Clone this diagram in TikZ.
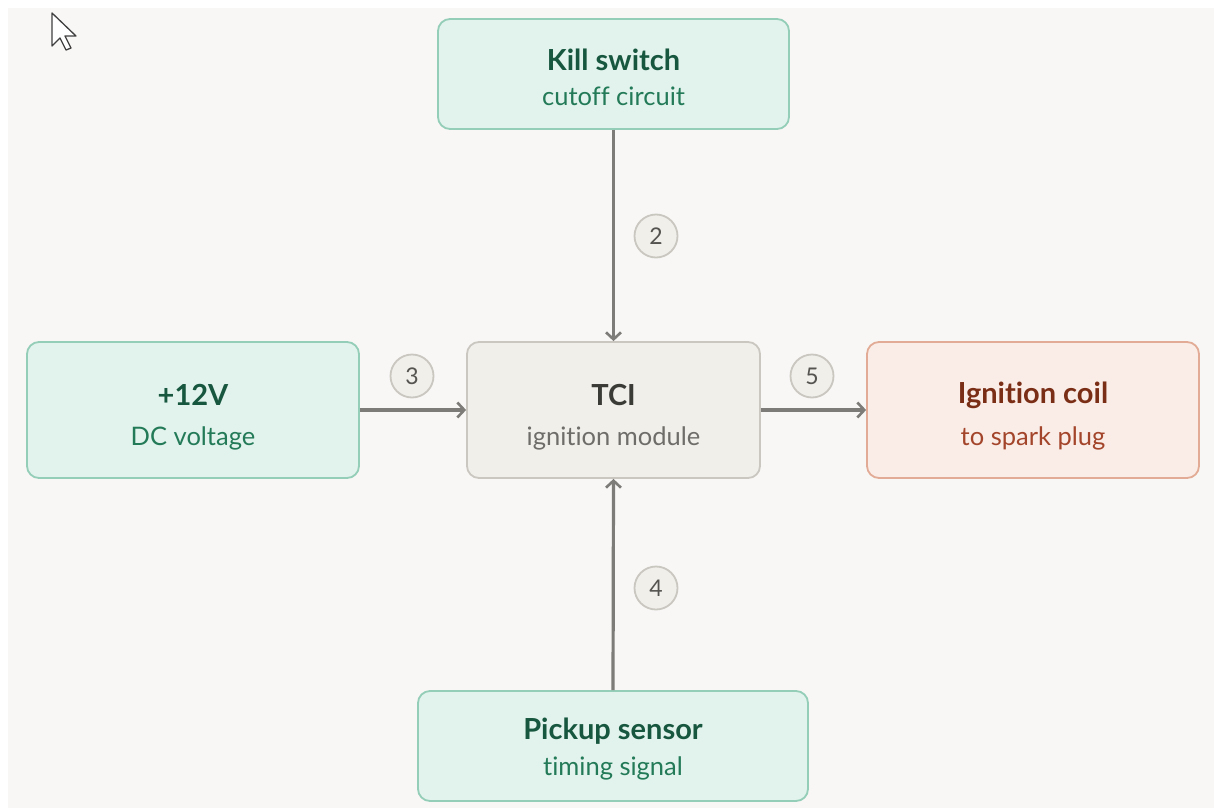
\documentclass[tikz,border=0pt]{standalone}
\usepackage{fontspec}
\setmainfont{Lato}[Ligatures={NoCommon,NoContextual}]
\usetikzlibrary{arrows.meta}
\definecolor{bgc}{HTML}{F8F7F5}
\definecolor{gfill}{HTML}{E1F3EC}
\definecolor{gdraw}{HTML}{94CDB8}
\definecolor{gtitle}{HTML}{17563F}
\definecolor{gsub}{HTML}{237A58}
\definecolor{nfill}{HTML}{F1EFEA}
\definecolor{ndraw}{HTML}{C9C7C0}
\definecolor{ntitle}{HTML}{3A3A37}
\definecolor{nsub}{HTML}{6E6D69}
\definecolor{rfill}{HTML}{FAECE6}
\definecolor{rdraw}{HTML}{E2AB95}
\definecolor{rtitle}{HTML}{7A2E16}
\definecolor{rsub}{HTML}{A3452A}
\definecolor{arr}{HTML}{7D7C78}
\definecolor{badge}{HTML}{555450}
\begin{document}
\begin{tikzpicture}[x=1pt,y=-1pt,
  box/.style={draw, line width=1.8pt, rounded corners=12pt, inner sep=0pt},
  greenbox/.style={box, fill=gfill, draw=gdraw},
  neutralbox/.style={box, fill=nfill, draw=ndraw},
  redbox/.style={box, fill=rfill, draw=rdraw},
  ttl/.style={font=\fontsize{29}{32}\selectfont\bfseries, anchor=center, inner sep=0pt},
  sub/.style={font=\fontsize{25.5}{29}\selectfont, anchor=center, inner sep=0pt},
  conn/.style={draw=arr, line width=3.2pt, -{Straight Barb[length=7pt,width=15pt,line width=2.6pt]}},
  num/.style={circle, draw=ndraw, fill=nfill, line width=1.8pt, minimum size=43pt, inner sep=0pt, text=badge, font=\fontsize{23}{25}\selectfont}
]
\useasboundingbox (0,0) rectangle (1214,808);
\fill[white] (0,0) rectangle (1214,808);
\fill[bgc] (8,8) rectangle (1214,808);

% cursor
\draw[fill=white, draw=black!75, line width=1.3pt, line join=round]
  (52,13) -- (52,46) -- (60,38) -- (66,50) -- (71,48) -- (65,36) -- (76,36) -- cycle;

% boxes
\node[greenbox, minimum width=351pt, minimum height=110pt] (k) at (613.5,74) {};
\node[ttl, text=gtitle] (kt) at (613.5,60) {Kill switch};
\node[sub, text=gsub] (ks) at (613.5,96) {cutoff circuit};

\node[greenbox, minimum width=332pt, minimum height=136pt] (v) at (193,410) {};
\node[ttl, text=gtitle] (vt) at (193,395) {+12V};
\node[sub, text=gsub] (vs) at (193,438) {DC voltage};

\node[neutralbox, minimum width=293pt, minimum height=136pt] (t) at (613.5,410) {};
\node[ttl, text=ntitle] (tt) at (613.5,395) {TCI};
\node[sub, text=nsub] (ts) at (613.5,438) {ignition module};

\node[redbox, minimum width=332pt, minimum height=136pt] (c) at (1033,410) {};
\node[ttl, text=rtitle] (ct) at (1033,395) {Ignition coil};
\node[sub, text=rsub] (cs) at (1033,438) {to spark plug};

\node[greenbox, minimum width=390pt, minimum height=110pt] (p) at (613,746) {};
\node[ttl, text=gtitle] (pt) at (613,731) {Pickup sensor};
\node[sub, text=gsub] (ps) at (613,768) {timing signal};

% connectors
\draw[conn] (k.south) -- (t.north);
\draw[conn] (v.east) -- (t.west);
\draw[conn] (t.east) -- (c.west);
\draw[conn] (p.north) -- (t.south);

% badges
\node[num] (n2) at (656,236) {2};
\node[num] (n3) at (412,376) {3};
\node[num] (n5) at (812,376) {5};
\node[num] (n4) at (656,588) {4};
\end{tikzpicture}
\end{document}
